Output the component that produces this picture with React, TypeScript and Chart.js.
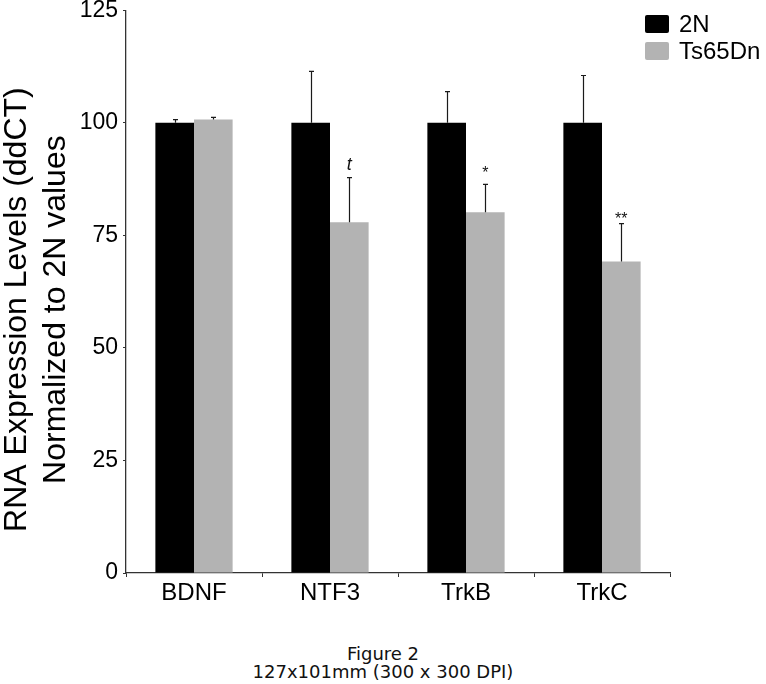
import React, { useEffect, useRef } from "react";
import { Chart, registerables } from "chart.js";

Chart.register(...registerables);

const categories = ["BDNF", "NTF3", "TrkB", "TrkC"];
const seriesNames = ["2N", "Ts65Dn"];
const values2N = [100, 100, 100, 100];
const valuesTs = [100.7, 77.9, 80.1, 69.2];
const err2N = [0.7, 11.4, 6.9, 10.5];
const errTs = [0.5, 9.9, 6.2, 8.4];
const sigLabels = ["", "t", "*", "**"];
const sigLabelY = [0, 91.0, 89.9, 79.6];
const yTicks = [0, 25, 50, 75, 100, 125];
const yTitleLines = ["RNA Expression Levels (ddCT)", "Normalized to 2N values"];
const captionLines = ["Figure 2", "127x101mm (300 x 300 DPI)"];

const SANS = "'Liberation Sans', Arial, sans-serif";
const SHIFT = 4; // canvas starts SHIFT px above the page top

const errorBarPlugin = {
  id: "errorBars",
  afterDatasetsDraw(chart: any) {
    const ctx = chart.ctx;
    const y = chart.scales.y;
    const errs = [err2N, errTs];
    ctx.save();
    ctx.strokeStyle = "#1a1a1a";
    ctx.lineWidth = 1.2;
    chart.data.datasets.forEach((ds: any, di: number) => {
      const meta = chart.getDatasetMeta(di);
      meta.data.forEach((bar: any, i: number) => {
        const v = ds.data[i];
        const top = y.getPixelForValue(v);
        const cap = y.getPixelForValue(v + errs[di][i]);
        const x = Math.round(bar.x) + 0.5;
        ctx.beginPath();
        ctx.moveTo(x, top);
        ctx.lineTo(x, cap);
        ctx.moveTo(x - 2.5, cap);
        ctx.lineTo(x + 2.5, cap);
        ctx.stroke();
      });
    });
    // significance labels above Ts65Dn bars
    const meta = chart.getDatasetMeta(1);
    ctx.fillStyle = "#111";
    ctx.textAlign = "center";
    ctx.textBaseline = "alphabetic";
    meta.data.forEach((bar: any, i: number) => {
      const lab = sigLabels[i];
      if (!lab) return;
      const isT = lab === "t";
      const size = isT ? 18 : 16;
      ctx.font = isT ? `italic ${size}px ${SANS}` : `${size}px ${SANS}`;
      const cy = y.getPixelForValue(sigLabelY[i]);
      // glyph ink centre sits ~0.36em (t) / ~0.58em (*) above the baseline
      const base = cy + (isT ? 0.36 : 0.58) * size;
      ctx.fillText(lab, bar.x, base);
    });
    ctx.restore();
  },
};

const titleLegendPlugin = {
  id: "titleLegend",
  afterDraw(chart: any) {
    const ctx = chart.ctx;
    const area = chart.chartArea;
    ctx.save();
    // Y axis title
    ctx.fillStyle = "#000";
    ctx.font = `32px ${SANS}`;
    ctx.textAlign = "center";
    ctx.textBaseline = "alphabetic";
    const cy = (area.top + area.bottom) / 2 + 18;
    const baselines = [26, 65];
    yTitleLines.forEach((t, k) => {
      ctx.save();
      ctx.translate(baselines[k], cy);
      ctx.rotate(-Math.PI / 2);
      ctx.fillText(t, 0, 0);
      ctx.restore();
    });
    // Legend
    const boxX = 645;
    const rowsY = [24 + SHIFT, 51 + SHIFT];
    ctx.font = `24px ${SANS}`;
    ctx.textAlign = "left";
    ctx.textBaseline = "middle";
    chart.data.datasets.forEach((ds: any, i: number) => {
      ctx.fillStyle = ds.backgroundColor;
      ctx.beginPath();
      (ctx as any).roundRect(boxX, rowsY[i] - 9, 24, 18, 2);
      ctx.fill();
      ctx.fillStyle = "#000";
      ctx.fillText(ds.label, boxX + 34, rowsY[i] + 1);
    });
    ctx.restore();
  },
};

export default function App() {
  const ref = useRef<HTMLCanvasElement | null>(null);
  useEffect(() => {
    if (!ref.current) return;
    const chart = new Chart(ref.current, {
      type: "bar",
      data: {
        labels: categories,
        datasets: [
          { label: seriesNames[0], data: values2N, backgroundColor: "#000000", borderWidth: 0 },
          { label: seriesNames[1], data: valuesTs, backgroundColor: "#b3b3b3", borderWidth: 0 },
        ],
      },
      options: {
        animation: false,
        responsive: true,
        maintainAspectRatio: false,
        layout: { padding: { left: 0, right: 96, top: 0, bottom: 0 } },
        datasets: { bar: { barPercentage: 1.0, categoryPercentage: 0.568 } },
        plugins: {
          legend: { display: false },
          tooltip: { enabled: false },
        },
        scales: {
          x: {
            grid: {
              offset: true,
              drawOnChartArea: false,
              drawTicks: true,
              tickLength: 4,
              color: "#333",
            },
            border: { display: true, color: "#333", width: 1.3 },
            ticks: {
              color: "#000",
              font: { family: SANS, size: 24 },
              padding: 2,
            },
            afterFit: (s: any) => {
              s.height = 52;
            },
          },
          y: {
            min: 0,
            max: 125,
            afterBuildTicks: (s: any) => {
              s.ticks = yTicks.map((v) => ({ value: v }));
            },
            grid: {
              drawOnChartArea: false,
              drawTicks: true,
              tickLength: 3,
              color: "#333",
            },
            border: { display: true, color: "#333", width: 1.3 },
            ticks: {
              color: "#000",
              font: { family: SANS, size: 23, lineHeight: 0.8 },
              padding: 5,
            },
            afterFit: (s: any) => {
              s.width = 126;
            },
          },
        },
      },
      plugins: [errorBarPlugin, titleLegendPlugin],
    });
    return () => chart.destroy();
  }, []);

  return (
    <div style={{ position: "absolute", left: 0, top: 0, width: 766, height: 684, background: "#fff", overflow: "hidden" }}>
      <div style={{ position: "absolute", left: 0, top: -SHIFT, width: 766, height: 625 + SHIFT }}>
        <canvas ref={ref} />
      </div>
      <div
        style={{
          position: "absolute",
          left: 0,
          top: 645,
          width: 766,
          textAlign: "center",
          fontFamily: "'DejaVu Sans', Verdana, sans-serif",
          fontSize: 18,
          lineHeight: "18px",
          color: "#111",
        }}
      >
        <div>{captionLines[0]}</div>
        <div>{captionLines[1]}</div>
      </div>
    </div>
  );
}
